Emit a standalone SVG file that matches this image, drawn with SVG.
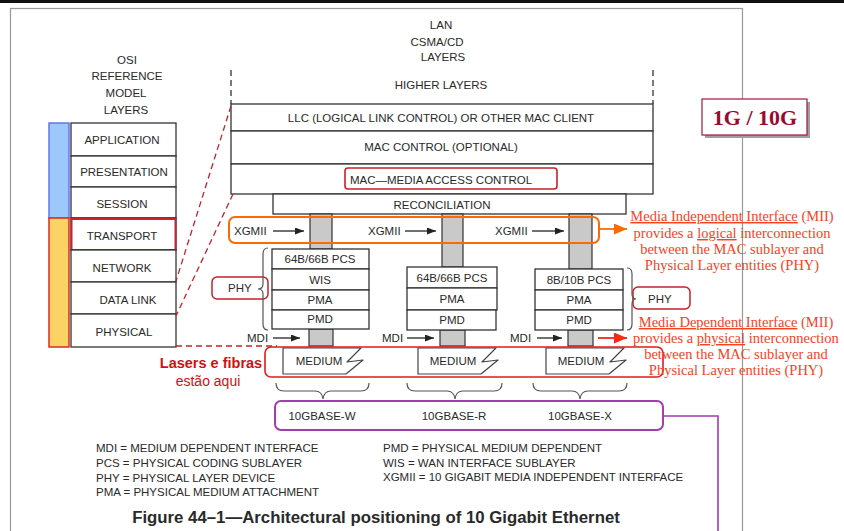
<svg xmlns="http://www.w3.org/2000/svg" width="844" height="531" viewBox="0 0 844 531">
  <defs>
    <style>
      .t { font-family: "Liberation Sans", Arial, sans-serif; font-size: 11.5px; fill: #2a2a2a; }
      .c { text-anchor: middle; }
      .box { fill: #ffffff; stroke: #333333; stroke-width: 1.3; }
      .gray { fill: #c9c9c9; stroke: #333333; stroke-width: 1.2; }
      .brace { fill: none; stroke: #555555; stroke-width: 1.2; }
      .ann { font-family: "Liberation Serif", "Times New Roman", serif; font-size: 14.5px; fill: #f4431f; text-anchor: middle; }
      .u { text-decoration: underline; }
      .redbox { fill: none; stroke: #c8202a; stroke-width: 1.6; }
      .redDash { fill: none; stroke: #c8202a; stroke-width: 1.3; stroke-dasharray: 6 4; }
      .blkDash { fill: none; stroke: #333333; stroke-width: 1.3; stroke-dasharray: 6 4; }
      .arr { fill: none; stroke: #222222; stroke-width: 1.3; marker-end: url(#ah); }
    </style>
    <marker id="ah" markerUnits="userSpaceOnUse" markerWidth="9" markerHeight="7" refX="9" refY="3.5" orient="auto">
      <path d="M0,0 L9,3.5 L0,7 z" fill="#222222"/>
    </marker>
    <marker id="ahOrange" markerUnits="userSpaceOnUse" markerWidth="13" markerHeight="11" refX="13" refY="5.5" orient="auto">
      <path d="M0,0 L13,5.5 L0,11 z" fill="#ff6a00"/>
    </marker>
    <marker id="ahRed" markerUnits="userSpaceOnUse" markerWidth="13" markerHeight="11" refX="13" refY="5.5" orient="auto">
      <path d="M0,0 L13,5.5 L0,11 z" fill="#f42a12"/>
    </marker>
    <!-- medium symbol: box with a lightning-bolt right edge -->
    <path id="medium" d="M0,0 H78 L64,14 L80,12 L63,26 H0 Z" fill="#ffffff" stroke="#444444" stroke-width="1.2" stroke-linejoin="round"/>
  </defs>

  <rect width="844" height="531" fill="#ffffff"/>
  <!-- page frame -->
  <line x1="0" y1="1.5" x2="844" y2="1.5" stroke="#111111" stroke-width="3"/>
  <rect x="10.5" y="8.5" width="732" height="540" fill="none" stroke="#9a9a9a" stroke-width="1.2"/>

  <!-- OSI reference model -->
  <g id="osi-title" class="t c">
    <text x="127" y="64">OSI</text>
    <text x="127" y="80">REFERENCE</text>
    <text x="126" y="97">MODEL</text>
    <text x="126" y="114">LAYERS</text>
  </g>
  <g id="osi-bars">
    <rect x="49" y="123" width="20" height="95" fill="#9cc8fb" stroke="#5a70e0" stroke-width="1.4"/>
    <rect x="49" y="218" width="20" height="129" fill="#fbd264" stroke="#dd2a2a" stroke-width="1.5"/>
  </g>
  <g id="osi-application"><rect class="box" x="71" y="123" width="105" height="33"/><text class="t c" x="122" y="144">APPLICATION</text></g>
  <g id="osi-presentation"><rect class="box" x="71" y="156" width="105" height="31"/><text class="t c" x="124" y="176">PRESENTATION</text></g>
  <g id="osi-session"><rect class="box" x="71" y="187" width="105" height="31"/><text class="t c" x="122" y="208">SESSION</text></g>
  <g id="osi-transport"><rect class="box" x="71" y="218" width="105" height="32"/><rect x="71.5" y="219" width="104" height="31" fill="none" stroke="#c0282d" stroke-width="2"/><text class="t c" x="122" y="240">TRANSPORT</text></g>
  <g id="osi-network"><rect class="box" x="71" y="250" width="105" height="32"/><text class="t c" x="122" y="272">NETWORK</text></g>
  <g id="osi-datalink"><rect class="box" x="71" y="282" width="105" height="32"/><text class="t c" x="128" y="304">DATA LINK</text></g>
  <g id="osi-physical"><rect class="box" x="71" y="314" width="105" height="33"/><text class="t c" x="124" y="336">PHYSICAL</text></g>

  <!-- LAN CSMA/CD layers -->
  <g id="lan-title" class="t c">
    <text x="441" y="29">LAN</text>
    <text x="437" y="46">CSMA/CD</text>
    <text x="443" y="61">LAYERS</text>
    <text x="441" y="89">HIGHER LAYERS</text>
  </g>
  <g id="llc"><rect class="box" x="231" y="104" width="422" height="27"/><text class="t c" x="441" y="122">LLC (LOGICAL LINK CONTROL) OR OTHER MAC CLIENT</text></g>
  <g id="mac-control"><rect class="box" x="231" y="131" width="422" height="33"/><text class="t c" x="441" y="151">MAC CONTROL (OPTIONAL)</text></g>
  <g id="mac"><rect class="box" x="231" y="164" width="422" height="30"/><rect class="redbox" x="345" y="168" width="212" height="21" rx="3"/><text class="t c" x="441" y="184">MAC—MEDIA ACCESS CONTROL</text></g>
  <g id="reconciliation"><rect class="box" x="273" y="194" width="353" height="20"/><text class="t c" x="442" y="209">RECONCILIATION</text></g>

  <!-- XGMII and MDI interface columns -->
  <g id="interfaces">
    <rect class="gray" x="310" y="214" width="22" height="35"/>
    <rect class="gray" x="442" y="214" width="21" height="53"/>
    <rect class="gray" x="569" y="214" width="23" height="55"/>
    <rect class="gray" x="309" y="329" width="24" height="17"/>
    <rect class="gray" x="440" y="330" width="25" height="16"/>
    <rect class="gray" x="568" y="330" width="25" height="16"/>
  </g>
  <g id="xgmii">
    <rect x="229" y="217" width="370" height="26" rx="6" fill="none" stroke="#ff6a00" stroke-width="2"/>
    <text class="t" x="234" y="235">XGMII</text>
    <text class="t" x="368" y="235">XGMII</text>
    <text class="t" x="495" y="235">XGMII</text>
  </g>

  <!-- PHY stacks -->
  <g id="phy-w">
    <rect class="box" x="272" y="249" width="97" height="20"/>
    <rect class="box" x="272" y="269" width="97" height="21"/>
    <rect class="box" x="272" y="290" width="97" height="20"/>
    <rect class="box" x="272" y="310" width="97" height="19"/>
    <text class="t c" x="320" y="263">64B/66B PCS</text>
    <text class="t c" x="320" y="284">WIS</text>
    <text class="t c" x="320" y="304">PMA</text>
    <text class="t c" x="320" y="323">PMD</text>
  </g>
  <g id="phy-r">
    <rect class="box" x="407" y="267" width="90" height="21"/>
    <rect class="box" x="407" y="288" width="90" height="22"/>
    <rect class="box" x="407" y="310" width="89" height="20"/>
    <text class="t c" x="452" y="282">64B/66B PCS</text>
    <text class="t c" x="452" y="303">PMA</text>
    <text class="t c" x="452" y="324">PMD</text>
  </g>
  <g id="phy-x">
    <rect class="box" x="535" y="269" width="88" height="21"/>
    <rect class="box" x="535" y="290" width="88" height="20"/>
    <rect class="box" x="535" y="310" width="88" height="20"/>
    <text class="t c" x="579" y="284">8B/10B PCS</text>
    <text class="t c" x="579" y="304">PMA</text>
    <text class="t c" x="579" y="324">PMD</text>
  </g>
  <g id="phy-left">
    <rect x="212" y="277" width="56" height="22" rx="5" fill="none" stroke="#c8202a" stroke-width="1.5"/>
    <text class="t" x="228" y="292">PHY</text>
  </g>
  <g id="phy-right">
    <rect x="633" y="287" width="57" height="22" rx="5" fill="none" stroke="#c8202a" stroke-width="1.5"/>
    <text class="t" x="648" y="303">PHY</text>
  </g>
  <g id="mdi" class="t">
    <text x="247" y="342">MDI</text>
    <text x="382" y="342">MDI</text>
    <text x="510" y="342">MDI</text>
  </g>

  <!-- media -->
  <g id="media">
    <use href="#medium" x="283" y="348"/>
    <use href="#medium" x="418" y="348"/>
    <use href="#medium" x="546" y="348"/>
    <text class="t c" x="319" y="365">MEDIUM</text>
    <text class="t c" x="453" y="365">MEDIUM</text>
    <text class="t c" x="581" y="365">MEDIUM</text>
    <rect x="265" y="347" width="398" height="30" rx="6" fill="none" stroke="#dd1c1c" stroke-width="1.6"/>
  </g>
  <g id="lasers">
    <text x="211" y="368" text-anchor="middle" font-family="Liberation Sans, Arial, sans-serif" font-size="14.5" font-weight="bold" fill="#cc1111">Lasers e fibras</text>
    <text x="208" y="386" text-anchor="middle" font-family="Liberation Sans, Arial, sans-serif" font-size="14" fill="#cc1111">estão aqui</text>
  </g>

  <!-- port types -->
  <g id="ports">
    <rect x="275" y="401" width="388" height="29" rx="6" fill="none" stroke="#a23cb0" stroke-width="2"/>
    <text class="t c" x="322" y="420">10GBASE-W</text>
    <text class="t c" x="454" y="420">10GBASE-R</text>
    <text class="t c" x="580" y="420">10GBASE-X</text>
  </g>

  <!-- 1G/10G badge -->
  <g id="badge">
    <rect x="705" y="102" width="105" height="36" fill="#a0a0a0"/>
    <rect x="702" y="99" width="105" height="36" fill="#ffffff" stroke="#a01838" stroke-width="1.2"/>
    <text x="755" y="125" text-anchor="middle" font-family="Liberation Serif, Times New Roman, serif" font-size="22" font-weight="bold" fill="#9a0a30">1G / 10G</text>
  </g>

  <!-- annotations -->
  <g id="mii-note" class="ann">
    <text x="732" y="221"><tspan class="u">Media Independent Interface</tspan> (MII)</text>
    <text x="732" y="238">provides a <tspan class="u">logical</tspan> interconnection</text>
    <text x="732" y="254">between the MAC sublayer and</text>
    <text x="732" y="270">Physical Layer entities (PHY)</text>
  </g>
  <g id="mdi-note" class="ann">
    <text x="736" y="327"><tspan class="u">Media Dependent Interface</tspan> (MII)</text>
    <text x="736" y="343">provides a <tspan class="u">physical</tspan> interconnection</text>
    <text x="736" y="359">between the MAC sublayer and</text>
    <text x="736" y="375">Physical Layer entities (PHY)</text>
  </g>

  <!-- legend -->
  <g id="legend" class="t">
    <text x="96" y="452">MDI = MEDIUM DEPENDENT INTERFACE</text>
    <text x="96" y="467">PCS = PHYSICAL CODING SUBLAYER</text>
    <text x="96" y="482">PHY = PHYSICAL LAYER DEVICE</text>
    <text x="96" y="496">PMA = PHYSICAL MEDIUM ATTACHMENT</text>
    <text x="383" y="452">PMD = PHYSICAL MEDIUM DEPENDENT</text>
    <text x="383" y="467">WIS = WAN INTERFACE SUBLAYER</text>
    <text x="383" y="481">XGMII = 10 GIGABIT MEDIA INDEPENDENT INTERFACE</text>
  </g>
  <g id="caption">
    <text x="376" y="523" text-anchor="middle" font-family="Liberation Sans, Arial, sans-serif" font-size="16.8" font-weight="bold" fill="#2a2a2a">Figure 44–1—Architectural positioning of 10 Gigabit Ethernet</text>
  </g>

  <!-- connectors -->
  <g id="connectors">
    <line class="blkDash" x1="231" y1="70" x2="231" y2="104"/>
    <line class="blkDash" x1="653" y1="70" x2="653" y2="104"/>
    <line class="redDash" x1="231" y1="106" x2="176" y2="281"/>
    <line class="redDash" x1="233" y1="194" x2="176" y2="316"/>
    <line class="redDash" x1="176" y1="346" x2="277" y2="346"/>
    <line class="arr" x1="273" y1="231" x2="304" y2="231"/>
    <line class="arr" x1="405" y1="231" x2="436" y2="231"/>
    <line class="arr" x1="532" y1="231" x2="564" y2="231"/>
    <line class="arr" x1="273" y1="338" x2="300" y2="338"/>
    <line class="arr" x1="407" y1="338" x2="434" y2="338"/>
    <line class="arr" x1="537" y1="338" x2="562" y2="338"/>
    <line x1="600" y1="229" x2="627" y2="229" stroke="#ff6a00" stroke-width="1.8" marker-end="url(#ahOrange)"/>
    <line x1="598" y1="338" x2="627" y2="338" stroke="#f42a12" stroke-width="1.8" marker-end="url(#ahRed)"/>
    <path class="brace" d="M268,248 Q263,248 263,254 L263,284 Q263,289 258,289 Q263,289 263,294 L263,324 Q263,330 268,330"/>
    <path class="brace" d="M627,268 Q632,268 632,274 L632,294 Q632,299 636,299 Q632,299 632,304 L632,324 Q632,330 627,330"/>
    <path class="brace" d="M276,383 Q276,391 284,391 L315,391 Q322,391 323,399 Q324,391 331,391 L361,391 Q369,391 369,383"/>
    <path class="brace" d="M407,383 Q407,391 415,391 L447,391 Q454,391 455,399 Q456,391 463,391 L494,391 Q502,391 502,383"/>
    <path class="brace" d="M533,383 Q533,391 541,391 L572,391 Q579,391 580,399 Q581,391 588,391 L619,391 Q627,391 627,383"/>
    <path d="M663,416 H718 V531" fill="none" stroke="#a23cb0" stroke-width="1.6"/>
  </g>
</svg>
